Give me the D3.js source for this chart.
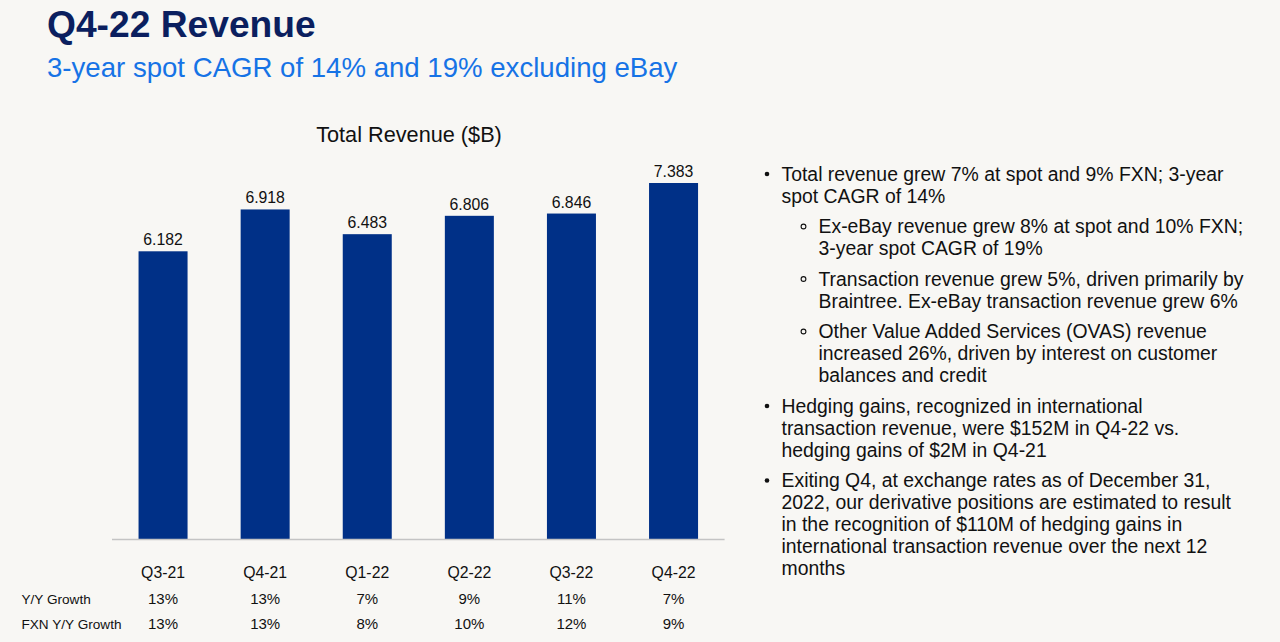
<!DOCTYPE html>
<html>
<head>
<meta charset="utf-8">
<script src="https://cdn.jsdelivr.net/npm/d3@7/dist/d3.min.js"></script>
<style>
  html, body { margin: 0; padding: 0; background: #f8f7f4; }
  svg { display: block; font-family: "Liberation Sans", Arial, sans-serif; }
</style>
</head>
<body>
<svg id="chart" width="1280" height="642"></svg>
<script>
// ---- data ----
const quarters = ["Q3-21", "Q4-21", "Q1-22", "Q2-22", "Q3-22", "Q4-22"];
const revenue = [6.182, 6.918, 6.483, 6.806, 6.846, 7.383];
const yoyGrowth = ["13%", "13%", "7%", "9%", "11%", "7%"];
const fxnGrowth = ["13%", "13%", "8%", "10%", "12%", "9%"];
const rowLabels = ["Y/Y Growth", "FXN Y/Y Growth"];
const titleText = "Q4-22 Revenue";
const subtitleText = "3-year spot CAGR of 14% and 19% excluding eBay";
const chartTitle = "Total Revenue ($B)";
const bullets = [
  { level: 1, lines: ["Total revenue grew 7% at spot and 9% FXN; 3-year", "spot CAGR of 14%"] },
  { level: 2, lines: ["Ex-eBay revenue grew 8% at spot and 10% FXN;", "3-year spot CAGR of 19%"] },
  { level: 2, lines: ["Transaction revenue grew 5%, driven primarily by", "Braintree. Ex-eBay transaction revenue grew 6%"] },
  { level: 2, lines: ["Other Value Added Services (OVAS) revenue", "increased 26%, driven by interest on customer", "balances and credit"] },
  { level: 1, lines: ["Hedging gains, recognized in international", "transaction revenue, were $152M in Q4-22 vs.", "hedging gains of $2M in Q4-21"] },
  { level: 1, lines: ["Exiting Q4, at exchange rates as of December 31,", "2022, our derivative positions are estimated to result", "in the recognition of $110M of hedging gains in", "international transaction revenue over the next 12", "months"] }
];

// ---- layout ----
const svg = d3.select("#chart");
const baseY = 539.5;

svg.append("text").attr("x", 47).attr("y", 36.7)
  .attr("font-size", 37.2).attr("font-weight", "bold").attr("fill", "#0b1f5f")
  .text(titleText);
svg.append("text").attr("x", 47).attr("y", 77.3)
  .attr("font-size", 27.6).attr("fill", "#1673e6")
  .text(subtitleText);

const x = d3.scaleBand().domain(quarters).range([112, 724.6])
  .paddingInner(0.52).paddingOuter(0.26);
const y = d3.scaleLinear().domain([1.114, 7.383]).range([baseY, 183]);

svg.append("text").attr("x", 409).attr("y", 142.3)
  .attr("text-anchor", "middle").attr("font-size", 21.7).attr("fill", "#111")
  .text(chartTitle);

const data = quarters.map((q, i) => ({ q, v: revenue[i], yoy: yoyGrowth[i], fxn: fxnGrowth[i] }));

svg.append("g").selectAll("rect").data(data).join("rect")
  .attr("x", d => x(d.q)).attr("width", x.bandwidth())
  .attr("y", d => y(d.v)).attr("height", d => baseY - y(d.v))
  .attr("fill", "#003087");

svg.append("g").selectAll("text").data(data).join("text")
  .attr("x", d => x(d.q) + x.bandwidth() / 2).attr("y", d => y(d.v) - 6)
  .attr("text-anchor", "middle").attr("font-size", 15.8).attr("fill", "#111")
  .text(d => d.v.toFixed(3));

// x axis
const xAxis = svg.append("g").attr("transform", `translate(0,${baseY})`)
  .call(d3.axisBottom(x).tickSize(0).tickPadding(27.3));
xAxis.select(".domain").attr("stroke", "#c4c4c4").attr("stroke-width", 1.5)
  .attr("d", `M112,0H724.6`);
xAxis.selectAll("text").attr("font-size", 15.8).attr("fill", "#111")
  .attr("font-family", "Liberation Sans, Arial, sans-serif");

// growth rows
const rows = [yoyGrowth, fxnGrowth];
const rowY = [604, 628.5];
rows.forEach((vals, r) => {
  svg.append("text").attr("x", 21.5).attr("y", rowY[r])
    .attr("font-size", 13.6).attr("fill", "#111").text(rowLabels[r]);
  svg.append("g").selectAll("text").data(quarters).join("text")
    .attr("x", q => x(q) + x.bandwidth() / 2).attr("y", rowY[r])
    .attr("text-anchor", "middle").attr("font-size", 15).attr("fill", "#111")
    .text((q, i) => vals[i]);
});

// bullets
const lineH = 22, paraGap = 8.5;
let cy = 180.5;
const bg = svg.append("g").attr("font-size", 19.4).attr("fill", "#111");
bullets.forEach(b => {
  const tx = b.level === 1 ? 781.5 : 818.5;
  if (b.level === 1) {
    bg.append("circle").attr("cx", 767).attr("cy", cy - 6.5).attr("r", 2.3).attr("fill", "#111");
  } else {
    bg.append("circle").attr("cx", 803.5).attr("cy", cy - 6.5).attr("r", 2.4)
      .attr("fill", "none").attr("stroke", "#111").attr("stroke-width", 1.1);
  }
  b.lines.forEach((ln, i) => {
    bg.append("text").attr("x", tx).attr("y", cy + i * lineH).text(ln);
  });
  cy += b.lines.length * lineH + paraGap;
});
</script>
</body>
</html>
